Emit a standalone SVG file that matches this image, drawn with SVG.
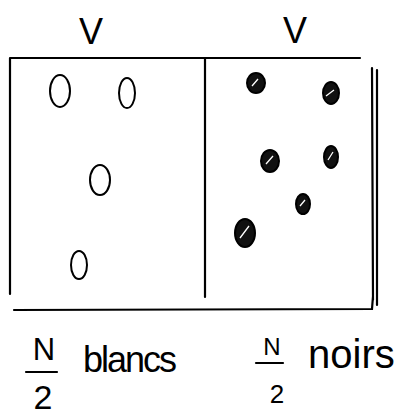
<svg xmlns="http://www.w3.org/2000/svg" width="412" height="416" viewBox="0 0 412 416">
<style>
.ln{stroke:#000;stroke-width:2.2;fill:none;stroke-linecap:round}
.w{stroke:#000;stroke-width:2;fill:#fff}
.b{stroke:#000;stroke-width:2;fill:#111}
.h{stroke:#fff;stroke-width:1.3;fill:none}
.t{font-family:"Liberation Sans",Arial,sans-serif;fill:#000}
</style>
<rect width="412" height="416" fill="#fff"/>
<g id="box">
<path class="ln" d="M10 58 L360 58 M10 58 L10 294 M14 310 L372 309 L373 296 M205 59 L205 297 M372 68 L373 300 M377 70 L377 305"/>
</g>
<g id="left-compartment">
<text class="t" x="91" y="44" font-size="36" text-anchor="middle">V</text>
<ellipse class="w" cx="60" cy="91" rx="10" ry="16"/>
<ellipse class="w" cx="127" cy="93" rx="8" ry="15"/>
<ellipse class="w" cx="100" cy="180" rx="10" ry="15"/>
<ellipse class="w" cx="79" cy="265" rx="8" ry="14"/>
</g>
<g id="right-compartment">
<text class="t" x="295" y="43" font-size="36" text-anchor="middle">V</text>
<g id="black-balls">
<ellipse class="b" cx="256" cy="83" rx="9" ry="10"/>
<ellipse class="b" cx="331" cy="93" rx="8" ry="11"/>
<ellipse class="b" cx="270" cy="161" rx="9" ry="11"/>
<ellipse class="b" cx="331" cy="157" rx="7" ry="11"/>
<ellipse class="b" cx="303" cy="204" rx="7" ry="10"/>
<ellipse class="b" cx="245" cy="233" rx="10" ry="14"/>
<path class="h" d="M252 86 L258 79 M326 96 L334 90 M266 164 L273 156 M328 160 L333 152 M300 206 L305 200 M240 238 L249 226"/>
</g>
</g>
<g id="label-blancs">
<text class="t" x="44" y="360" font-size="31" text-anchor="middle">N</text>
<path class="ln" d="M26 372 L57 372"/>
<text class="t" x="43" y="409" font-size="34" text-anchor="middle">2</text>
<text class="t" x="83" y="372" font-size="36" textLength="94" lengthAdjust="spacing">blancs</text>
</g>
<g id="label-noirs">
<text class="t" x="272" y="355" font-size="24" text-anchor="middle">N</text>
<path class="ln" d="M256 363 L283 363"/>
<text class="t" x="277" y="403" font-size="26" text-anchor="middle">2</text>
<text class="t" x="308" y="368" font-size="40">noirs</text>
</g>
</svg>
